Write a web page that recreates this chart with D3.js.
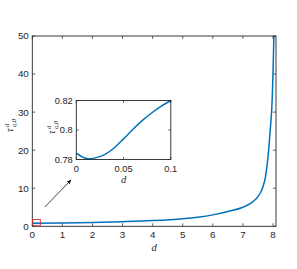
<!DOCTYPE html>
<html>
<head>
<meta charset="utf-8">
<script src="https://cdn.jsdelivr.net/npm/d3@7"></script>
<style>
  body { margin: 0; background: #fff; }
  svg { display: block; }
</style>
</head>
<body>
<svg id="chart"></svg>
<script>
// main curve
const mainD   = [0, 1, 2, 3, 4, 5, 5.5, 6, 6.5, 7, 7.25, 7.5, 7.65, 7.75, 7.81, 7.85, 7.89, 7.93, 7.96, 8.0, 8.03];
const mainTau = [0.785, 0.85, 0.98, 1.2, 1.5, 2.0, 2.4, 3.0, 3.9, 5.0, 6.0, 7.8, 10.0, 13.0, 16.5, 19.5, 23.5, 27.5, 31, 40, 50];

// zoomed inset curve
const insetD   = [0, 0.005, 0.01, 0.015, 0.02, 0.03, 0.04, 0.05, 0.06, 0.07, 0.08, 0.09, 0.1];
const insetTau = [0.7843, 0.7822, 0.7809, 0.7805, 0.7811, 0.7833, 0.7878, 0.7940, 0.8005, 0.8065, 0.8117, 0.8162, 0.8200];

const mainXTicks = [0, 1, 2, 3, 4, 5, 6, 7, 8];
const mainYTicks = [0, 10, 20, 30, 40, 50];
const insetXTicks = [0, 0.05, 0.1];
const insetYTicks = [0.78, 0.8, 0.82];

// marker box and arrow (data coords of the main axes)
const boxD = [0, 0.25], boxTau = [0, 1.8];
const arrowD = [0.42, 1.29], arrowTau = [5.1, 12.2];

const width = 297, height = 269;
const axisColor = "#262626";
const lineColor = "#0072BD";
const font = "Liberation Sans, Arial, sans-serif";

const svg = d3.select("#chart").attr("width", width).attr("height", height);

const x = d3.scaleLinear().domain([0, 8.1]).range([32.3, 276]);
const y = d3.scaleLinear().domain([0, 50]).range([226.3, 36]);

const xi = d3.scaleLinear().domain([0, 0.1]).range([76.3, 170.8]);
const yi = d3.scaleLinear().domain([0.78, 0.82]).range([159.5, 100.5]);

function drawBox(g, xs, ys, xt, yt, tick, fs, fmtX, fmtY) {
  const [x0, x1] = xs.range(), [y0, y1] = ys.range();
  // ticks inside, all four sides
  g.selectAll(null).data(xt).join("line")
    .attr("x1", d => xs(d)).attr("x2", d => xs(d))
    .attr("y1", y0).attr("y2", y0 - tick)
    .attr("stroke", axisColor).attr("stroke-width", 0.7);
  g.selectAll(null).data(xt).join("line")
    .attr("x1", d => xs(d)).attr("x2", d => xs(d))
    .attr("y1", y1).attr("y2", y1 + tick)
    .attr("stroke", axisColor).attr("stroke-width", 0.7);
  g.selectAll(null).data(yt).join("line")
    .attr("x1", x0).attr("x2", x0 + tick)
    .attr("y1", d => ys(d)).attr("y2", d => ys(d))
    .attr("stroke", axisColor).attr("stroke-width", 0.7);
  g.selectAll(null).data(yt).join("line")
    .attr("x1", x1).attr("x2", x1 - tick)
    .attr("y1", d => ys(d)).attr("y2", d => ys(d))
    .attr("stroke", axisColor).attr("stroke-width", 0.7);
  g.append("rect")
    .attr("x", x0).attr("y", y1).attr("width", x1 - x0).attr("height", y0 - y1)
    .attr("fill", "none").attr("stroke", axisColor).attr("stroke-width", 0.9);

  g.selectAll(null).data(xt).join("text")
    .attr("x", d => xs(d)).attr("y", y0 + 12)
    .attr("text-anchor", "middle")
    .attr("font-family", font).attr("font-size", fs).attr("fill", axisColor)
    .text(fmtX);
  g.selectAll(null).data(yt).join("text")
    .attr("x", x0 - 3.5).attr("y", d => ys(d)).attr("dy", "0.35em")
    .attr("text-anchor", "end")
    .attr("font-family", font).attr("font-size", fs).attr("fill", axisColor)
    .text(fmtY);
}

function tauLabel(g, cx, cy) {
  const t = g.append("g").attr("transform", `translate(${cx},${cy}) rotate(-90)`);
  t.append("text").attr("x", -4).attr("y", 3)
    .attr("font-family", "Liberation Serif, serif").attr("font-style", "italic")
    .attr("font-size", 10).attr("fill", axisColor).text("τ");
  t.append("text").attr("x", 1).attr("y", -1.5)
    .attr("font-family", "Liberation Serif, serif").attr("font-style", "italic")
    .attr("font-size", 6.5).attr("fill", axisColor).text("d");
  t.append("text").attr("x", 1).attr("y", 6)
    .attr("font-family", "Liberation Serif, serif").attr("font-style", "italic")
    .attr("font-size", 6.5).attr("fill", axisColor).text("q,0");
}

const line = d3.line().curve(d3.curveMonotoneX);

// ---- main axes
const gm = svg.append("g");
gm.append("path")
  .attr("d", line(mainD.map((d, i) => [x(d), y(mainTau[i])])))
  .attr("fill", "none").attr("stroke", lineColor).attr("stroke-width", 1.5);
drawBox(gm, x, y, mainXTicks, mainYTicks, 3, 9.8, d => d, d => d);

gm.append("rect")
  .attr("x", x(boxD[0]) + 0.5).attr("y", y(boxTau[1]))
  .attr("width", x(boxD[1]) - x(boxD[0])).attr("height", y(boxTau[0]) - y(boxTau[1]) - 0.5)
  .attr("fill", "none").attr("stroke", "#e8262b").attr("stroke-width", 0.9);

gm.append("text").attr("x", (x(0) + x(8.1)) / 2).attr("y", 251)
  .attr("text-anchor", "middle")
  .attr("font-family", "Liberation Serif, serif").attr("font-style", "italic")
  .attr("font-size", 10.5).attr("fill", axisColor).text("d");
tauLabel(gm, 10, 128);

// arrow
svg.append("defs").append("marker")
  .attr("id", "ah").attr("viewBox", "0 0 10 10").attr("refX", 9).attr("refY", 5)
  .attr("markerWidth", 6).attr("markerHeight", 6).attr("orient", "auto")
  .append("path").attr("d", "M0,1 L10,5 L0,9 z").attr("fill", "#111");
gm.append("line")
  .attr("x1", x(arrowD[0])).attr("y1", y(arrowTau[0]))
  .attr("x2", x(arrowD[1])).attr("y2", y(arrowTau[1]))
  .attr("stroke", "#111").attr("stroke-width", 0.8)
  .attr("marker-end", "url(#ah)");

// ---- inset
const gi = svg.append("g");
gi.append("rect")
  .attr("x", xi.range()[0]).attr("y", yi.range()[1])
  .attr("width", xi.range()[1] - xi.range()[0]).attr("height", yi.range()[0] - yi.range()[1])
  .attr("fill", "#fff");
gi.append("path")
  .attr("d", line(insetD.map((d, i) => [xi(d), yi(insetTau[i])])))
  .attr("fill", "none").attr("stroke", lineColor).attr("stroke-width", 1.5);
drawBox(gi, xi, yi, insetXTicks, insetYTicks, 2.5, 9.3, d => d === 0 ? "0" : d3.format("")(d), d => d3.format("")(d));
gi.append("text").attr("x", (xi(0) + xi(0.1)) / 2).attr("y", 183)
  .attr("text-anchor", "middle")
  .attr("font-family", "Liberation Serif, serif").attr("font-style", "italic")
  .attr("font-size", 10.5).attr("fill", axisColor).text("d");
tauLabel(gi, 52, 130);
</script>
</body>
</html>
